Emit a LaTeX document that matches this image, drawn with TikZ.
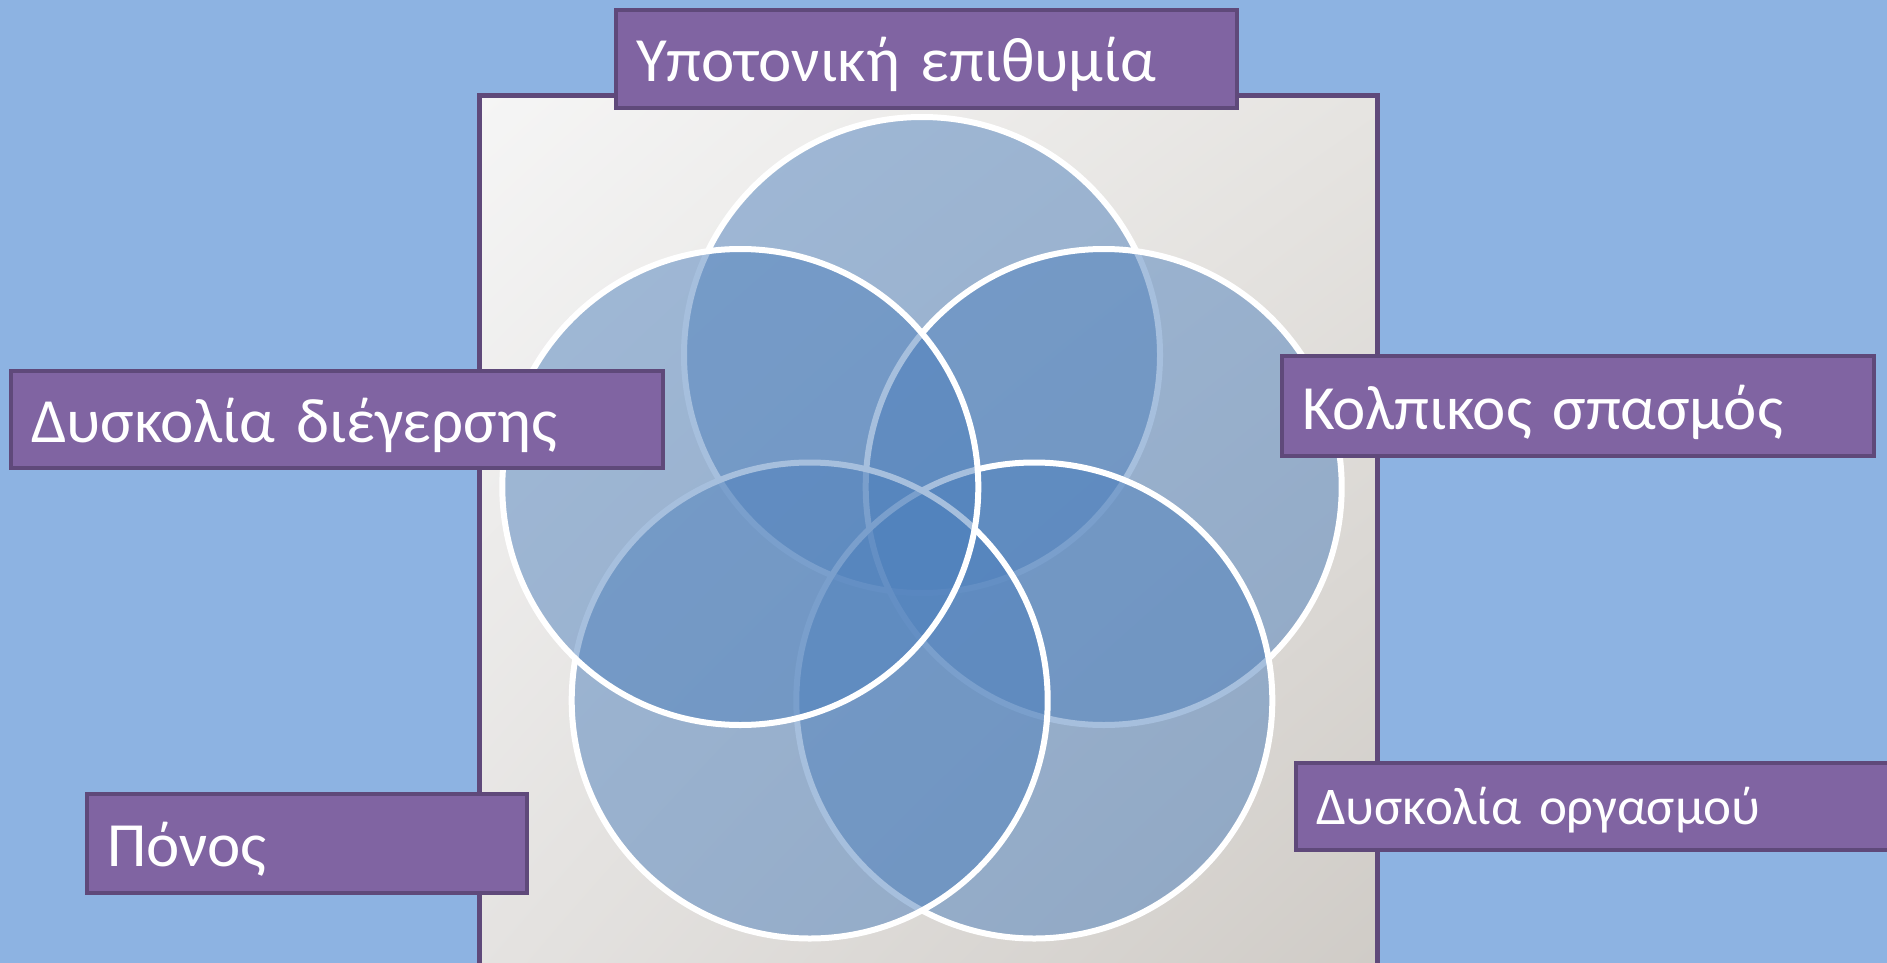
\documentclass[tikz,border=0pt]{standalone}
\usepackage{fontspec}
\setmainfont{Carlito}
\usetikzlibrary{shadings}
\definecolor{bgblue}{HTML}{8DB3E2}
\definecolor{lblfill}{HTML}{8064A2}
\definecolor{lblline}{HTML}{5F497A}
\definecolor{vennblue}{HTML}{4F81BD}
\definecolor{frUL}{RGB}{245,245,245}
\definecolor{frUR}{RGB}{230,228,225}
\definecolor{frLL}{RGB}{228,226,224}
\definecolor{frLR}{RGB}{207,203,198}
\definecolor{pagenumcol}{RGB}{40,30,20}
\begin{document}
\begin{tikzpicture}[x=1pt,y=-1pt,
  vcircle/.style={circle,minimum size=476pt,inner sep=0pt,outer sep=0pt,
    draw=white,line width=6pt,fill=vennblue,fill opacity=0.5,draw opacity=1},
  lblbox/.style={rectangle,draw=lblline,line width=4.5pt,fill=lblfill,
    anchor=north west,inner xsep=20pt,inner ysep=0pt,outer sep=0pt,
    text=white,align=left},
  bigtxt/.style={font=\fontsize{63}{75}\selectfont,text height=46pt,text depth=0pt},
  smalltxt/.style={font=\fontsize{53}{63}\selectfont,text height=36pt,text depth=0pt}]
\fill[bgblue] (0,0) rectangle (1887,963);
\useasboundingbox (0,0) rectangle (1887,963);
% frame
\shade[upper left=frUL,upper right=frUR,lower left=frLL,lower right=frLR]
  (479,96) rectangle (1377,995);
\draw[lblline,line width=5pt] (479,995) -- (479,96) -- (1377,96) -- (1377,995);
\node[text=pagenumcol,font=\fontsize{34}{40}\selectfont\rmfamily] (pagenum) at (1366,977) {1};
% venn circles
\node[vcircle] (c1) at (922,355) {};
\node[vcircle] (c2) at (1103.7,487) {};
\node[vcircle] (c3) at (1034.3,700.5) {};
\node[vcircle] (c4) at (809.7,700.5) {};
\node[vcircle] (c5) at (740.3,487) {};
% labels
\node[lblbox,bigtxt,minimum width=621pt,minimum height=98pt,text width=581pt] (top) at (616,10) {Υποτονική επιθυμία};
\node[lblbox,bigtxt,minimum width=652pt,minimum height=97pt,text width=612pt] (left) at (11,371) {Δυσκολία διέγερσης};
\node[lblbox,bigtxt,minimum width=592pt,minimum height=100pt,text width=552pt] (right) at (1282,356) {Κολπικος σπασμός};
\node[lblbox,bigtxt,minimum width=440pt,minimum height=99pt,text width=400pt] (pain) at (87,794) {Πόνος};
\node[lblbox,smalltxt,minimum width=610pt,minimum height=87pt,text width=570pt] (org) at (1296,763) {Δυσκολία οργασμού};
\end{tikzpicture}
\end{document}
